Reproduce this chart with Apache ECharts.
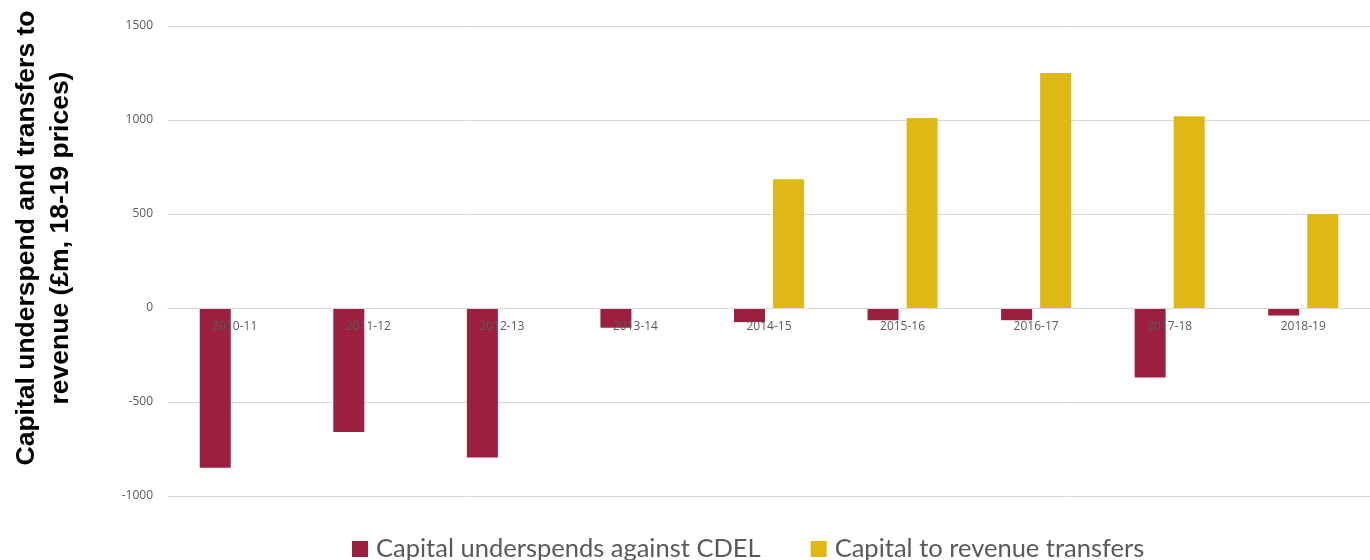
<!DOCTYPE html>
<html>
<head>
<meta charset="utf-8">
<script src="https://cdn.jsdelivr.net/npm/echarts@6/dist/echarts.min.js"></script>
<style>
  html, body { margin: 0; padding: 0; background: #ffffff; }
  #chart { width: 1370px; height: 560px; }
</style>
</head>
<body>
<div id="chart"></div>
<script>
// Financial years on the category axis
const years = ['2010-11', '2011-12', '2012-13', '2013-14', '2014-15', '2015-16', '2016-17', '2017-18', '2018-19'];
// £m, 18-19 prices
const underspends = [-850, -660, -795, -105, -75, -65, -65, -370, -40];
const transfers = [null, null, null, null, 685, 1010, 1250, 1020, 500];
const seriesNames = ['Capital underspends against CDEL', 'Capital to revenue transfers'];
const yTitle = 'Capital underspend and transfers to\nrevenue (£m, 18-19 prices)';
const yMin = -1000;
const yMax = 1500;
const yStep = 500;

const RED = '#9B203F';
const GOLD = '#DEB915';
const LABEL_GREY = '#595959';
const GRID_GREY = '#d9d9d9';

const GRID_TOP = 26;
const GRID_HEIGHT = 470;
// category labels sit just under the zero line, so lift the axis from the grid bottom to zero
const zeroLift = GRID_HEIGHT * (0 - yMin) / (yMax - yMin);

const chart = echarts.init(document.getElementById('chart'), null, { renderer: 'canvas' });

chart.setOption({
  animation: false,
  backgroundColor: '#ffffff',
  grid: { left: 168, top: GRID_TOP, width: 1219, height: GRID_HEIGHT, containLabel: false },
  legend: {
    left: 347,
    top: 531,
    itemWidth: 16,
    itemHeight: 16,
    itemGap: 50,
    icon: 'rect',
    textStyle: { fontFamily: 'Lato', fontSize: 25.5, color: LABEL_GREY, padding: [0, 0, 0, 3] },
    data: seriesNames
  },
  xAxis: {
    type: 'category',
    data: years,
    z: 5,
    offset: -zeroLift,
    axisLine: { show: true, onZero: false, lineStyle: { color: GRID_GREY, width: 1 } },
    axisTick: { show: false },
    axisLabel: { color: LABEL_GREY, fontFamily: 'Open Sans', fontSize: 12, margin: 13 }
  },
  yAxis: {
    type: 'value',
    min: yMin,
    max: yMax,
    interval: yStep,
    axisLine: { show: false },
    axisTick: { show: false },
    splitLine: { lineStyle: { color: GRID_GREY, width: 1 } },
    axisLabel: {
      color: LABEL_GREY, fontFamily: 'Open Sans', fontSize: 12, margin: 15,
      formatter: (v) => String(v)
    }
  },
  graphic: [{
    type: 'text',
    x: 44,
    y: 238,
    rotation: Math.PI / 2,
    style: {
      text: yTitle,
      font: 'bold 26.5px "Liberation Sans", Arial, sans-serif',
      fill: '#000000',
      align: 'center',
      verticalAlign: 'middle',
      lineHeight: 34
    }
  }],
  series: [
    {
      name: seriesNames[0],
      type: 'bar',
      data: underspends,
      barWidth: 31,
      barGap: '26%',
      itemStyle: { color: RED }
    },
    {
      name: seriesNames[1],
      type: 'bar',
      data: transfers,
      barWidth: 31,
      itemStyle: { color: GOLD }
    }
  ]
});
</script>
</body>
</html>
